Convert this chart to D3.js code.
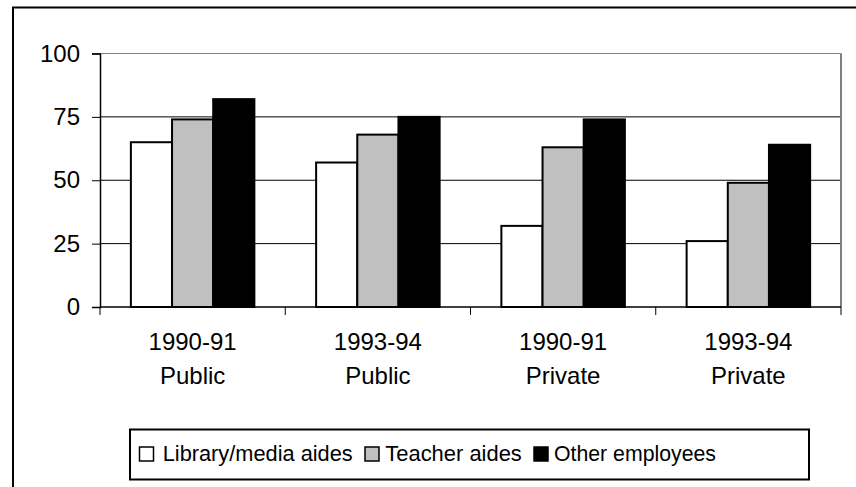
<!DOCTYPE html>
<html>
<head>
<meta charset="utf-8">
<script src="https://cdn.jsdelivr.net/npm/d3@7"></script>
<style>
  html, body { margin: 0; padding: 0; background: #fff; }
  svg { display: block; font-family: Arial, "Liberation Sans", sans-serif; }
</style>
</head>
<body>
<svg id="chart" width="856" height="487"></svg>
<script>
const categoriesYear = ["1990-91", "1993-94", "1990-91", "1993-94"];
const categoriesSector = ["Public", "Public", "Private", "Private"];
const seriesNames = ["Library/media aides", "Teacher aides", "Other employees"];
const libraryMediaAides = [65, 57, 32, 26];
const teacherAides = [74, 68, 63, 49];
const otherEmployees = [82, 75, 74, 64];
const yTicks = [0, 25, 50, 75, 100];
const seriesFills = ["#ffffff", "#c0c0c0", "#000000"];

const seriesValues = [libraryMediaAides, teacherAides, otherEmployees];
const catIdx = d3.range(categoriesYear.length);

const svg = d3.select("#chart");
const plot = { left: 100, right: 841, top: 53.5, bottom: 307 };

// outer frame (extends beyond right/bottom edges)
svg.append("rect")
  .attr("x", 13).attr("y", 7.5)
  .attr("width", 900).attr("height", 600)
  .attr("fill", "none").attr("stroke", "#000").attr("stroke-width", 2);

const y = d3.scaleLinear().domain([0, 100]).range([plot.bottom, plot.top]);
const x = d3.scaleBand().domain(catIdx).range([plot.left, plot.right]).padding(0);
const xs = d3.scaleBand().domain(d3.range(seriesNames.length))
  .range([0, x.bandwidth()]).paddingInner(0).paddingOuter(0.75);

// gridlines
svg.append("g").selectAll("line")
  .data(yTicks.filter(t => t > 0))
  .join("line")
  .attr("x1", plot.left).attr("x2", plot.right)
  .attr("y1", d => y(d)).attr("y2", d => y(d))
  .attr("stroke", d => d === 100 ? "#808080" : "#000")
  .attr("stroke-width", 1);

// plot area right border
svg.append("line")
  .attr("x1", plot.right).attr("x2", plot.right)
  .attr("y1", plot.top).attr("y2", plot.bottom)
  .attr("stroke", "#808080").attr("stroke-width", 2);

// bars
const groups = svg.append("g").selectAll("g")
  .data(catIdx).join("g")
  .attr("transform", i => `translate(${x(i)},0)`);
groups.selectAll("rect")
  .data(i => seriesValues.map((arr, s) => ({ s, v: arr[i] })))
  .join("rect")
  .attr("x", d => xs(d.s))
  .attr("width", xs.bandwidth())
  .attr("y", d => y(d.v))
  .attr("height", d => y(0) - y(d.v))
  .attr("fill", d => seriesFills[d.s])
  .attr("stroke", "#000").attr("stroke-width", 2);

// y axis
const yAxis = d3.axisLeft(y).tickValues(yTicks).tickSize(8).tickPadding(12);
const gy = svg.append("g").attr("transform", `translate(${plot.left},0)`).call(yAxis);
gy.select(".domain").attr("stroke", "#000").attr("stroke-width", 1.5);
gy.selectAll(".tick line").attr("stroke", "#000");
gy.selectAll(".tick text").attr("font-size", 24).attr("font-family", "Arial, 'Liberation Sans', sans-serif").attr("fill", "#000");

// x axis (ticks at category boundaries)
const boundaries = catIdx.map(i => x(i)).concat([plot.right]);
svg.append("line")
  .attr("x1", plot.left).attr("x2", plot.right)
  .attr("y1", plot.bottom).attr("y2", plot.bottom)
  .attr("stroke", "#000").attr("stroke-width", 1.5);
svg.append("g").selectAll("line").data(boundaries).join("line")
  .attr("x1", d => d).attr("x2", d => d)
  .attr("y1", plot.bottom).attr("y2", plot.bottom + 8)
  .attr("stroke", "#000");

const xl = svg.append("g").selectAll("text").data(catIdx).join("text")
  .attr("text-anchor", "middle")
  .attr("font-size", 24)
  .attr("fill", "#000")
  .attr("x", i => x(i) + x.bandwidth() / 2);
xl.append("tspan").attr("x", i => x(i) + x.bandwidth() / 2).attr("y", 350).text(i => categoriesYear[i]);
xl.append("tspan").attr("x", i => x(i) + x.bandwidth() / 2).attr("y", 383.5).text(i => categoriesSector[i]);

// legend
svg.append("rect")
  .attr("x", 130).attr("y", 429.5).attr("width", 679).attr("height", 50)
  .attr("fill", "#fff").attr("stroke", "#000").attr("stroke-width", 2);
const legendItems = [
  { sx: 139.5, tx: 162.7, tw: 190 },
  { sx: 365, tx: 385.3, tw: 136.5 },
  { sx: 534, tx: 554, tw: 162 }
];
const lg = svg.append("g").selectAll("g").data(legendItems).join("g");
lg.append("rect")
  .attr("x", d => d.sx).attr("y", 447).attr("width", 14).attr("height", 14)
  .attr("fill", (d, i) => seriesFills[i]).attr("stroke", "#000").attr("stroke-width", 1.5);
lg.append("text")
  .attr("x", d => d.tx).attr("y", 461)
  .attr("font-size", 22).attr("fill", "#000")
  .attr("textLength", d => d.tw).attr("lengthAdjust", "spacingAndGlyphs")
  .text((d, i) => seriesNames[i]);
</script>
</body>
</html>
